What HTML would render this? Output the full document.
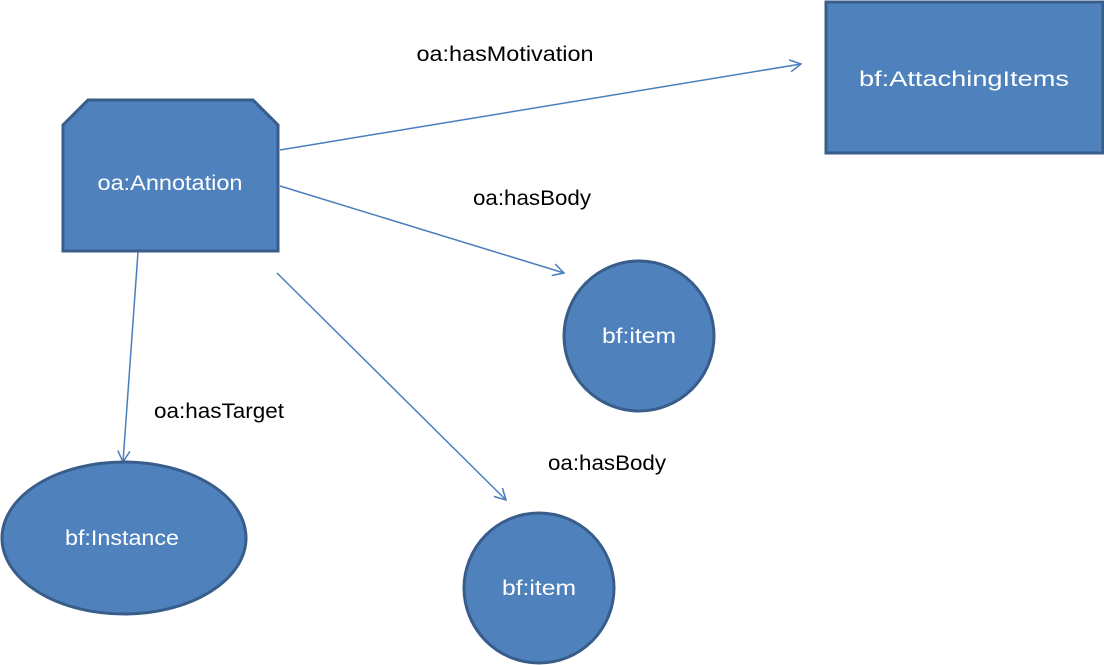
<!DOCTYPE html>
<html><head><meta charset="utf-8"><style>
html,body{margin:0;padding:0;background:#fff;}
svg{display:block;}
text{font-family:"Liberation Sans",sans-serif;}
</style></head><body>
<svg width="1104" height="665" viewBox="0 0 1104 665" xmlns="http://www.w3.org/2000/svg">
<defs>
<marker id="a" markerWidth="14" markerHeight="14" refX="12" refY="7" orient="auto" markerUnits="userSpaceOnUse">
<path d="M1,1 L12,7 L1,13" fill="none" stroke="#4a7ebb" stroke-width="1.5"/>
</marker>
</defs>
<g stroke="#4a7ebb" stroke-width="1.5" fill="none" marker-end="url(#a)">
<line x1="280" y1="150" x2="801" y2="64"/>
<line x1="280" y1="186" x2="564" y2="273"/>
<line x1="138" y1="252" x2="123" y2="462"/>
<line x1="277" y1="273" x2="506" y2="500"/>
</g>
<g fill="#4f81bd" stroke="#385d8a" stroke-width="3">
<path d="M88,100 L253,100 L278,125 L278,251 L63,251 L63,125 Z"/>
<rect x="826" y="2" width="277" height="151"/>
<circle cx="639" cy="336" r="75"/>
<circle cx="539" cy="588" r="75"/>
<ellipse cx="124" cy="538" rx="122" ry="76"/>
</g>
<g fill="#fff" font-size="21" text-anchor="middle" lengthAdjust="spacingAndGlyphs">
<text x="170" y="190" textLength="145" lengthAdjust="spacingAndGlyphs">oa:Annotation</text>
<text x="964" y="86" textLength="210" lengthAdjust="spacingAndGlyphs">bf:AttachingItems</text>
<text x="639" y="343" textLength="74" lengthAdjust="spacingAndGlyphs">bf:item</text>
<text x="539" y="595" textLength="74" lengthAdjust="spacingAndGlyphs">bf:item</text>
<text x="122" y="545" textLength="114" lengthAdjust="spacingAndGlyphs">bf:Instance</text>
</g>
<g fill="#000" font-size="21" text-anchor="middle">
<text x="505" y="61" textLength="177" lengthAdjust="spacingAndGlyphs">oa:hasMotivation</text>
<text x="532" y="205" textLength="118" lengthAdjust="spacingAndGlyphs">oa:hasBody</text>
<text x="219" y="418" textLength="130" lengthAdjust="spacingAndGlyphs">oa:hasTarget</text>
<text x="607" y="470" textLength="118" lengthAdjust="spacingAndGlyphs">oa:hasBody</text>
</g>
</svg>
</body></html>
